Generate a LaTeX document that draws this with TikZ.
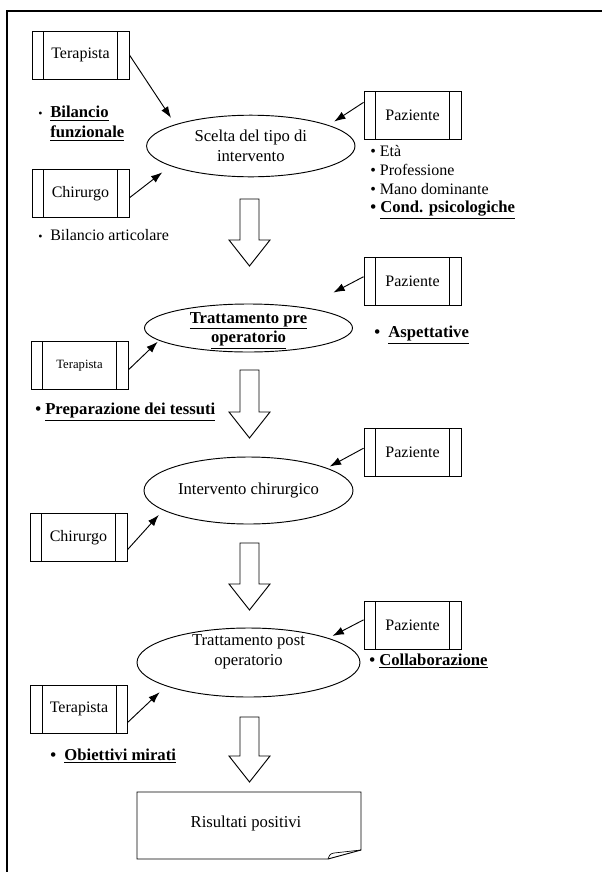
\documentclass[tikz,border=0pt]{standalone}
\usepackage{fontspec}
\setmainfont{Liberation Serif}
\usetikzlibrary{shapes.geometric,arrows.meta}

\tikzset{
  attore/.style={draw, line width=0.7pt, minimum width=72.75pt, minimum height=36pt, inner sep=0pt,
    font=\fontsize{12}{14}\selectfont,
    path picture={
      \draw[line width=0.5pt] ([xshift=8.5pt]path picture bounding box.north west) -- ([xshift=8.5pt]path picture bounding box.south west);
      \draw[line width=0.5pt] ([xshift=-8.5pt]path picture bounding box.north east) -- ([xshift=-8.5pt]path picture bounding box.south east);}},
  fase/.style={draw, ellipse, line width=0.7pt, inner sep=0pt},
  fasetesto/.style={align=center, inner sep=0pt, font=\fontsize{12.5}{15}\selectfont},
  freccia/.style={-{Latex[length=8.5pt,width=6pt]}, line width=0.7pt},
  voce/.style={anchor=west, inner sep=0pt, font=\fontsize{12}{14}\selectfont},
  vocebf/.style={anchor=west, inner sep=0pt, font=\fontsize{12.5}{15}\selectfont\bfseries}
}

\begin{document}
\begin{tikzpicture}[x=0.75pt,y=-0.75pt]
\useasboundingbox (0,0) rectangle (602,872);
\draw[line width=1pt] (602,11) -- (7,11) -- (7,872);

\node[fase, minimum width=156.3pt, minimum height=46.2pt] (e1) at (250.8,146) {};
\node[fasetesto] (e1t) at (e1) {Scelta del tipo di\\intervento};
\node[fase, minimum width=156pt, minimum height=36pt] (e2) at (248.5,328) {};
\node[fasetesto, font=\fontsize{12.5}{14.5}\selectfont\bfseries] (e2t) at (248.5,330.5) {\underline{Trattamento pre}\\\underline{operatorio}};
\node[fase, minimum width=156.75pt, minimum height=50.25pt] (e3) at (248.5,490.5) {};
\node[fasetesto] (e3t) at (e3) {Intervento chirurgico};
\node[fase, minimum width=167.25pt, minimum height=51.75pt] (e4) at (248.5,662.5) {};
\node[fasetesto] (e4t) at (248.5,652) {Trattamento post\\operatorio};

\foreach \n/\y in {p1/115.5,p2/281,p3/452.5,p4/625}
  \node[attore] (\n) at (412.5,\y) {Paziente};
\node[attore] (t1) at (80.5,55) {Terapista};
\node[attore] (c1) at (80.5,193.5) {Chirurgo};
\node[attore, font=\fontsize{9.5}{11}\selectfont] (t2) at (79.5,365.5) {Terapista};
\node[attore] (c3) at (78.5,537.5) {Chirurgo};
\node[attore] (t4) at (79,709) {Terapista};

\draw[freccia, shorten >=5.8pt] (t1.east) -- (e1.164);
\draw[freccia, shorten >=7.7pt] (c1.-5) -- (e1.194);
\draw[freccia, shorten >=4.9pt] (p1.165) -- (e1.15);
\draw[freccia, shorten >=24pt] (p2.175) -- (e2.20);
\draw[freccia, shorten >=1.3pt] (t2.-5) -- (e2.188);
\draw[freccia, shorten >=2.3pt] (p3.175) -- (e3.16);
\draw[freccia, shorten >=4.8pt] (c3.-14) -- (e3.193);
\draw[freccia, shorten >=3.4pt] (p4.174) -- (e4.17);
\draw[freccia, shorten >=6.6pt] (t4.-15) -- (e4.196);

\foreach \a/\b in {199/266,370/438,543/610,717/782}
  \draw[line width=0.7pt] (240,\a) -- (259,\a) -- (259,\b-26) -- (270,\b-26) -- (249.5,\b)
    -- (229,\b-26) -- (240,\b-26) -- cycle;

\node[vocebf, anchor=north west, align=left] (bf) at (38,106)
  {\makebox[9pt][l]{\mdseries\small\textbullet}\underline{Bilancio}\\\hspace*{9pt}\underline{funzionale}};
\node[voce] (ba) at (38,235) {\makebox[9pt][l]{\small\textbullet}Bilancio articolare};
\node[voce] (eta) at (370,151) {\textbullet\ Età};
\node[voce] (prof) at (370,170) {\textbullet\ Professione};
\node[voce] (mano) at (370,189) {\textbullet\ Mano dominante};
\node[vocebf] (cond) at (370,210) {\textbullet\ \underline{Cond. psicologiche}};
\node[vocebf] (asp) at (374,335) {\textbullet\ \ \underline{Aspettative}};
\node[vocebf] (prep) at (35,412) {\textbullet\ \underline{Preparazione dei tessuti}};
\node[vocebf] (coll) at (369,661) {\textbullet\ \underline{Collaborazione}};
\node[vocebf] (obi) at (50,756) {\textbullet\ \ \underline{Obiettivi mirati}};

\draw[line width=0.7pt] (137,792) -- (361,792) -- (361,850) -- (328,859) -- (137,859) -- cycle;
\draw[line width=0.5pt] (328,859) .. controls (330,854) .. (334,853) -- (361,850);
\node[fasetesto] (ris) at (246,823) {Risultati positivi};
\end{tikzpicture}
\end{document}
